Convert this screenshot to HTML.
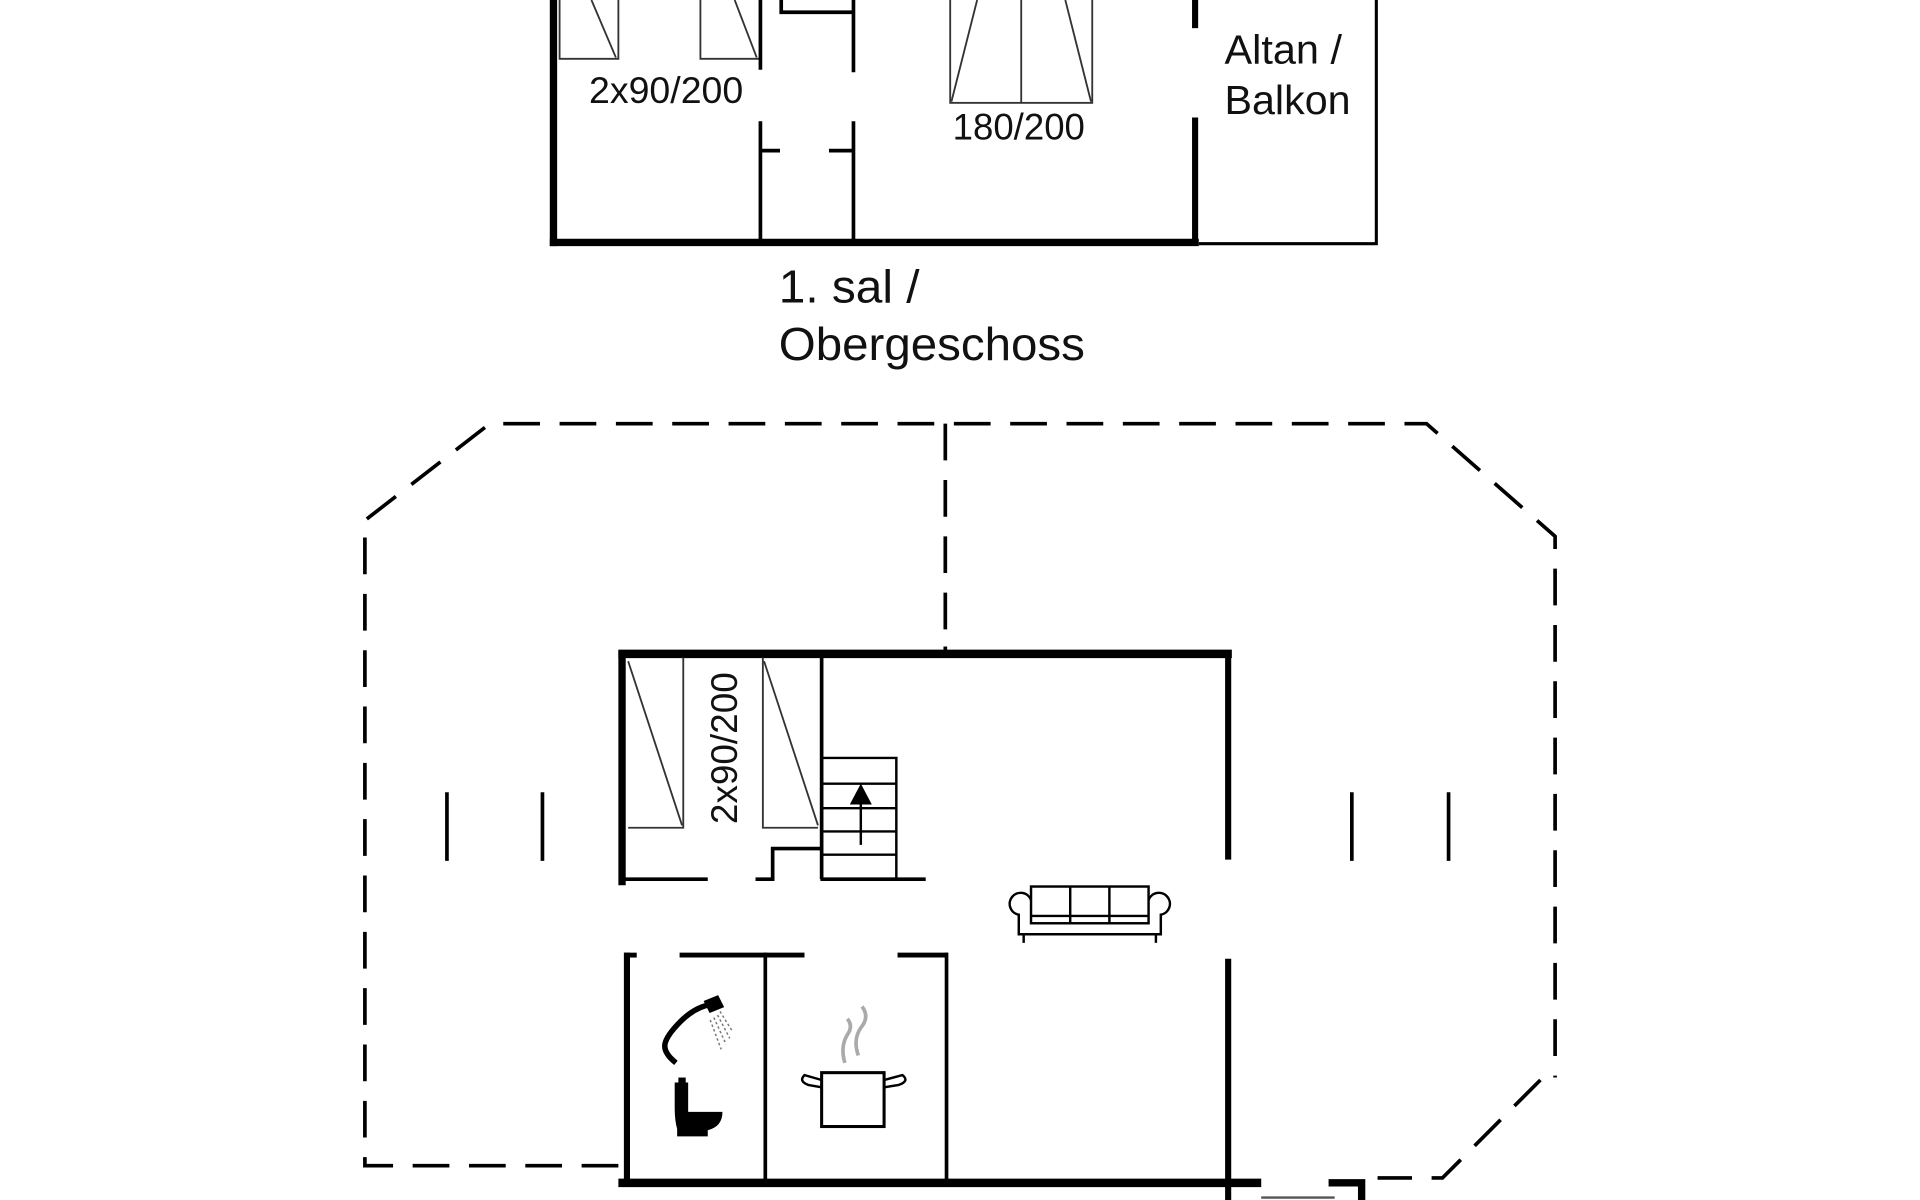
<!DOCTYPE html>
<html><head><meta charset="utf-8"><style>
html,body{margin:0;padding:0;background:#fff;}
svg{display:block;}
text{font-family:"Liberation Sans",Arial,sans-serif;fill:#111;}
</style></head><body>
<svg width="1920" height="1200" viewBox="0 0 1568 980" preserveAspectRatio="none" xmlns="http://www.w3.org/2000/svg">
<g stroke="#000" fill="none" stroke-linecap="butt">
<!-- Upper floor -->
<line x1="452" y1="0" x2="452" y2="201" stroke-width="6"/>
<line x1="449" y1="198" x2="979" y2="198" stroke-width="6"/>
<line x1="976" y1="0" x2="976" y2="23" stroke-width="5"/>
<line x1="976" y1="96" x2="976" y2="198" stroke-width="5"/>
<polyline points="979,199 1124,199 1124,0" stroke-width="2.5"/>
<g stroke-width="1.5" stroke="#333">
<polyline points="457,0 457,48 505,48 505,0"/>
<line x1="483" y1="0" x2="503" y2="47"/>
<polyline points="572,0 572,48 620,48"/>
<line x1="600" y1="0" x2="618" y2="47"/>
<rect x="776" y="-2" width="116" height="86"/>
<line x1="834" y1="0" x2="834" y2="84"/>
<line x1="798" y1="0" x2="777" y2="83"/>
<line x1="870" y1="0" x2="891" y2="83"/>
</g>
<line x1="621" y1="0" x2="621" y2="57" stroke-width="3"/>
<line x1="621" y1="99" x2="621" y2="198" stroke-width="3"/>
<line x1="697" y1="0" x2="697" y2="59" stroke-width="3"/>
<line x1="697" y1="99" x2="697" y2="198" stroke-width="3"/>
<line x1="621" y1="123" x2="637" y2="123" stroke-width="3"/>
<line x1="677" y1="123" x2="697" y2="123" stroke-width="3"/>
<polyline points="638,0 638,10 697,10" stroke-width="3"/>

<!-- Ground floor dashed outline -->
<g stroke-width="3" stroke-dasharray="30,16">
<polyline points="505,952 298,952 298,425 400,346 1165,346 1270,438 1270,880"/>
<polyline points="1258,882 1178,962 1125,962"/>
<line x1="772" y1="346" x2="772" y2="530"/>
</g>
<g stroke-width="3">
<line x1="365" y1="647" x2="365" y2="703"/>
<line x1="443" y1="647" x2="443" y2="703"/>
<line x1="1104" y1="647" x2="1104" y2="703"/>
<line x1="1183" y1="647" x2="1183" y2="703"/>
<line x1="772" y1="528" x2="772" y2="534"/>
</g>
<line x1="505" y1="534" x2="1006" y2="534" stroke-width="7"/>
<line x1="508" y1="531" x2="508" y2="723" stroke-width="6"/>
<line x1="1003" y1="531" x2="1003" y2="702" stroke-width="5"/>
<line x1="1003" y1="783" x2="1003" y2="980" stroke-width="5"/>
<line x1="505" y1="966" x2="1030" y2="966" stroke-width="7"/>
<line x1="512" y1="778" x2="512" y2="966" stroke-width="5"/>
<line x1="625" y1="778" x2="625" y2="966" stroke-width="3"/>
<line x1="773" y1="778" x2="773" y2="966" stroke-width="3"/>
<line x1="510" y1="780" x2="520" y2="780" stroke-width="4"/>
<line x1="555" y1="780" x2="657" y2="780" stroke-width="4"/>
<line x1="733" y1="780" x2="774" y2="780" stroke-width="4"/>
<polyline points="1085,966 1112,966 1112,980" stroke-width="6"/>
<line x1="1030" y1="978" x2="1090" y2="978" stroke-width="2" stroke="#555"/>
<line x1="671" y1="537" x2="671" y2="718" stroke-width="3"/>
<line x1="510" y1="718" x2="578" y2="718" stroke-width="3"/>
<polyline points="617,718 631,718 631,693 671,693" stroke-width="3"/>
<line x1="670" y1="718" x2="756" y2="718" stroke-width="3"/>
<g stroke-width="1.5" stroke="#333">
<polyline points="558,537 558,676 513,676"/>
<line x1="513" y1="540" x2="557" y2="674"/>
<polyline points="623,537 623,676 668,676"/>
<line x1="624" y1="540" x2="668" y2="674"/>
</g>
<g stroke-width="2">
<polyline points="672,619 732,619 732,718"/>
<line x1="672" y1="640" x2="732" y2="640"/>
<line x1="672" y1="660" x2="732" y2="660"/>
<line x1="672" y1="679" x2="732" y2="679"/>
<line x1="672" y1="698" x2="732" y2="698"/>
<line x1="703" y1="655" x2="703" y2="690"/>
</g>
<polygon points="703,640 694,657 712,657" fill="#000" stroke="none"/>
<!-- sofa -->
<g stroke-width="2">
<rect x="842" y="724" width="96" height="30"/>
<line x1="874" y1="724" x2="874" y2="754"/>
<line x1="906" y1="724" x2="906" y2="754"/>
<line x1="842" y1="748" x2="938" y2="748"/>
<path d="M842,735 a9,9 0 1 0 -10,12 L832,763 L948,763 L948,747 a9,9 0 1 0 -10,-12"/>
<line x1="836" y1="763" x2="836" y2="770"/>
<line x1="944" y1="763" x2="944" y2="770"/>
</g>
<!-- shower -->
<path d="M582,820 Q568,822 556,834 Q544,846 543,853 Q542,860 552,868" stroke-width="4.5"/>
<path d="M576,818 L586,814 L590,822 L580,826 Z" fill="#000" stroke-width="2"/>
<g stroke="#777" stroke-width="1.2" stroke-dasharray="2,2">
<line x1="588" y1="826" x2="598" y2="842"/><line x1="586" y1="829" x2="596" y2="848"/><line x1="583" y1="831" x2="593" y2="853"/><line x1="580" y1="833" x2="589" y2="857"/>
</g>
<rect x="671" y="876" width="51" height="44" stroke-width="2.5"/>
<path d="M671,882 L657,878 Q652,883 660,886 L671,888" stroke-width="2"/>
<path d="M722,882 L737,878 Q743,883 734,886 L722,888" stroke-width="2"/>
<path d="M690,868 Q686,855 692,845 Q697,838 692,832" stroke="#aaa" stroke-width="3"/>
<path d="M701,862 Q696,848 704,838 Q710,830 704,822" stroke="#aaa" stroke-width="3"/>
</g>
<path d="M551,884 L562,884 L562,908 L590,908 Q590,920 578,923 L578,928 L553,928 L553,922 Q551,915 551,905 Z" fill="#000"/>
<rect x="554" y="880" width="6" height="5" fill="#000"/>

<text x="481" y="84" font-size="30" textLength="126" lengthAdjust="spacingAndGlyphs">2x90/200</text>
<text x="778" y="114" font-size="30" textLength="108" lengthAdjust="spacingAndGlyphs">180/200</text>
<text x="1000" y="52" font-size="33" textLength="96" lengthAdjust="spacingAndGlyphs">Altan /</text>
<text x="1000" y="93" font-size="33" textLength="103" lengthAdjust="spacingAndGlyphs">Balkon</text>
<text x="636" y="247" font-size="38" textLength="115" lengthAdjust="spacingAndGlyphs">1. sal /</text>
<text x="636" y="294" font-size="38" textLength="250" lengthAdjust="spacingAndGlyphs">Obergeschoss</text>
<text transform="translate(602,673) rotate(-90)" font-size="30" textLength="124" lengthAdjust="spacingAndGlyphs">2x90/200</text>
</svg>
</body></html>
